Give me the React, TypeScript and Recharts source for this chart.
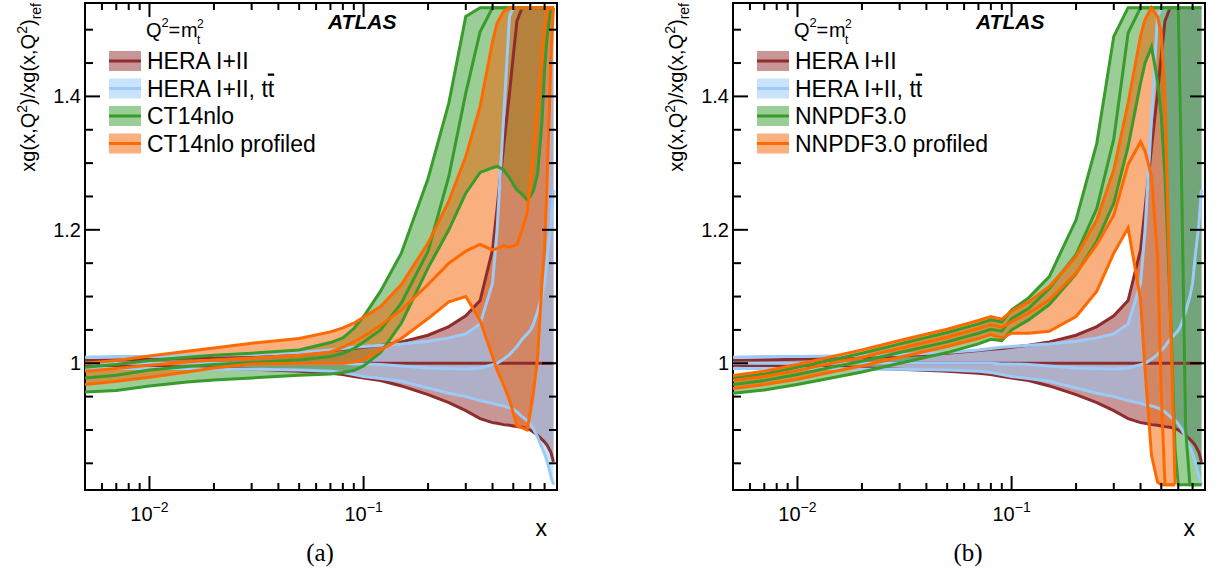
import React from "react";
import { ComposedChart, Area, Line, XAxis, YAxis, ReferenceArea } from "recharts";

// shared x grid (both panels)
const X = [
  0.005, 0.007, 0.01, 0.015, 0.02, 0.03, 0.05, 0.07, 0.08, 0.09, 0.1, 0.12, 0.15, 0.2, 0.25,
  0.3, 0.35, 0.4, 0.42, 0.45, 0.48, 0.5, 0.52, 0.55, 0.58, 0.6, 0.62, 0.65, 0.68, 0.7, 0.72,
  0.75, 0.77,
];

// HERA I+II
const HERA_LO = [
  0.997, 0.996, 0.995, 0.994, 0.993, 0.991, 0.988, 0.985, 0.983, 0.98, 0.978, 0.974, 0.966,
  0.953, 0.941, 0.929, 0.917, 0.911, 0.91, 0.908, 0.907, 0.906, 0.905, 0.904, 0.902, 0.9,
  0.897, 0.892, 0.886, 0.882, 0.877, 0.866, 0.852,
];
const HERA_MID = [
  1, 1, 1, 1, 1, 1, 1, 1, 1, 1, 1, 1, 1, 1, 1, 1, 1, 1, 1, 1, 1, 1, 1, 1, 1, 1, 1, 1, 1, 1, 1,
  1, 1,
];
const HERA_HI = [
  1.004, 1.005, 1.006, 1.008, 1.009, 1.011, 1.015, 1.019, 1.021, 1.022, 1.024, 1.027, 1.032,
  1.042, 1.055, 1.071, 1.094, 1.17, 1.232, 1.323, 1.405, 1.461, 1.513, 1.533, 1.533, 1.533,
  1.533, 1.533, 1.533, 1.533, 1.533, 1.533, 1.533,
];

// HERA I+II, ttbar
const TT_LO = [
  0.992, 0.992, 0.992, 0.992, 0.991, 0.991, 0.99, 0.988, 0.986, 0.983, 0.98, 0.977, 0.973,
  0.963, 0.955, 0.95, 0.944, 0.94, 0.938, 0.936, 0.933, 0.931, 0.927, 0.92, 0.914, 0.909,
  0.902, 0.889, 0.874, 0.864, 0.853, 0.83, 0.818,
];
const TT_MID = [
  1, 1, 1, 1, 1, 1, 1, 1, 1, 0.999, 0.999, 0.998, 0.996, 0.993, 0.992, 0.9915, 0.993, 0.998,
  1, 1.006, 1.013, 1.019, 1.025, 1.036, 1.044, 1.049, 1.058, 1.078, 1.1, 1.12, 1.16, 1.21, 1.26,
];
const TT_HI = [
  1.009, 1.01, 1.01, 1.011, 1.012, 1.013, 1.016, 1.02, 1.022, 1.024, 1.025, 1.027, 1.029,
  1.033, 1.038, 1.044, 1.059, 1.12, 1.2, 1.365, 1.52, 1.533, 1.533, 1.533, 1.533, 1.533,
  1.533, 1.533, 1.533, 1.533, 1.533, 1.533, 1.533,
];

// CT14nlo
const CT_LO = [
  0.957, 0.959, 0.966, 0.972, 0.975, 0.978, 0.982, 0.984, 0.986, 0.989, 0.996, 1.016, 1.06,
  1.143, 1.2, 1.255, 1.286, 1.293, 1.295, 1.29, 1.278, 1.268, 1.26, 1.253, 1.245, 1.25, 1.258,
  1.285, 1.36, 1.44, 1.49, 1.533, 1.533,
];
const CT_MID = [
  0.978, 0.982, 0.99, 0.995, 0.998, 1.001, 1.005, 1.01, 1.015, 1.022, 1.032, 1.05, 1.09, 1.168,
  1.28, 1.405, 1.497, 1.533, 1.533, 1.533, 1.533, 1.533, 1.533, 1.533, 1.533, 1.533, 1.533,
  1.533, 1.533, 1.533, 1.533, 1.533, 1.533,
];
const CT_HI = [
  0.994, 0.998, 1.004, 1.009, 1.012, 1.015, 1.02, 1.031, 1.038, 1.052, 1.07, 1.108, 1.165,
  1.277, 1.39, 1.52, 1.533, 1.533, 1.533, 1.533, 1.533, 1.533, 1.533, 1.533, 1.533, 1.533,
  1.533, 1.533, 1.533, 1.533, 1.533, 1.533, 1.533,
];

// CT14nlo profiled
const CTP_LO = [
  0.968, 0.973, 0.979, 0.987, 0.993, 0.999, 1.0, 1.0, 1.0, 1.002, 1.005, 1.02, 1.037, 1.067,
  1.092, 1.1, 1.064, 1.01, 0.99, 0.968, 0.945, 0.925, 0.906, 0.903, 0.9, 0.926, 0.955, 1.01,
  1.12, 1.17, 1.28, 1.46, 1.533,
];
const CTP_MID = [
  0.988, 0.992, 0.997, 1.002, 1.005, 1.008, 1.012, 1.017, 1.024, 1.032, 1.04, 1.057, 1.08,
  1.118, 1.15, 1.168, 1.178, 1.17, 1.172, 1.176, 1.174, 1.176, 1.178, 1.2, 1.225, 1.27, 1.315,
  1.385, 1.46, 1.5, 1.53, 1.533, 1.533,
];
const CTP_HI = [
  1.0, 1.004, 1.011, 1.018, 1.023, 1.03, 1.037, 1.047, 1.053, 1.06, 1.069, 1.085, 1.118, 1.18,
  1.243, 1.31, 1.385, 1.482, 1.51, 1.527, 1.533, 1.533, 1.533, 1.533, 1.533, 1.533, 1.533,
  1.533, 1.533, 1.533, 1.533, 1.533, 1.533,
];

// NNPDF3.0
const NN_LO = [
  0.955, 0.96, 0.968, 0.979, 0.987, 1.0, 1.016, 1.029, 1.036, 1.034, 1.05, 1.065, 1.088, 1.134,
  1.183, 1.24, 1.325, 1.42, 1.45, 1.474, 1.424, 1.37, 1.28, 1.09, 0.87, 0.818, 0.818, 0.818,
  0.818, 0.818, 0.818, 0.818, 0.818,
];
const NN_MID = [
  0.968, 0.974, 0.983, 0.995, 1.003, 1.016, 1.032, 1.045, 1.051, 1.048, 1.067, 1.082, 1.112,
  1.163, 1.232, 1.336, 1.495, 1.533, 1.533, 1.533, 1.533, 1.533, 1.533, 1.533, 1.533, 1.533,
  1.3, 0.9, 0.818, 0.818, 0.818, 0.818, 0.818,
];
const NN_HI = [
  0.978, 0.984, 0.994, 1.006, 1.015, 1.029, 1.046, 1.059, 1.065, 1.062, 1.08, 1.098, 1.13,
  1.215, 1.33, 1.49, 1.533, 1.533, 1.533, 1.533, 1.533, 1.533, 1.533, 1.533, 1.533, 1.533,
  1.533, 1.533, 1.533, 1.533, 1.533, 1.533, 1.533,
];

// NNPDF3.0 profiled (ends at x = 0.58)
const NNP_LO = [
  0.962, 0.968, 0.976, 0.988, 0.996, 1.009, 1.025, 1.037, 1.043, 1.038, 1.045, 1.045, 1.048,
  1.07, 1.108, 1.165, 1.203, 1.095, 0.99, 0.862, 0.822, 0.818, 0.818, 0.818, 0.818, null, null,
  null, null, null, null, null, null,
];
const NNP_MID = [
  0.974, 0.98, 0.989, 1.001, 1.009, 1.022, 1.039, 1.052, 1.058, 1.054, 1.062, 1.075, 1.095,
  1.135, 1.178, 1.222, 1.298, 1.332, 1.318, 1.28, 1.16, 0.955, 0.818, 0.818, 0.818, null, null,
  null, null, null, null, null, null,
];
const NNP_HI = [
  0.9815, 0.988, 0.998, 1.011, 1.02, 1.034, 1.051, 1.064, 1.07, 1.066, 1.078, 1.092, 1.115,
  1.16, 1.215, 1.29, 1.39, 1.49, 1.515, 1.533, 1.52, 1.494, 1.4, 1.09, 0.818, null, null, null,
  null, null, null, null, null,
];

const X_TICKS = [
  0.006, 0.007, 0.008, 0.009, 0.01, 0.02, 0.03, 0.04, 0.05, 0.06, 0.07, 0.08, 0.09, 0.1, 0.2,
  0.3, 0.4, 0.5, 0.6, 0.7,
];
const Y_TICKS = [
  0.85, 0.9, 0.95, 1.0, 1.05, 1.1, 1.15, 1.2, 1.25, 1.3, 1.35, 1.4, 1.45, 1.5,
];

const RED = { fill: "#912d2d", line: "#8e2c2e" };
const BLUE = { fill: "#96c8fa", line: "#9ccbf7" };
const GREEN = { fill: "#379b2d", line: "#389b2c" };
const ORANGE = { fill: "#f55f00", line: "#ff6a00" };

const FONT = "'Liberation Sans', Arial, sans-serif";
const W = 610;
const H = 577;
const PLOT_TOP = 3;
const PLOT_LEFT = 85;
const PLOT_RIGHT = 557;
const PLOT_BOTTOM = 490;

type Band = { id: string; lo: (number | null)[]; mid: (number | null)[]; hi: (number | null)[]; color: { fill: string; line: string } };

function XTick(props: any) {
  const { x, y, payload } = props;
  const v = payload.value;
  const major = Math.abs(Math.log10(v) - Math.round(Math.log10(v))) < 1e-6;
  const len = major ? 14 : 7;
  return (
    <g>
      <line x1={x} x2={x} y1={y} y2={y - len} stroke="#000" strokeWidth={2} />
      <line x1={x} x2={x} y1={PLOT_TOP} y2={PLOT_TOP + len} stroke="#000" strokeWidth={2} />
      {major && (
        <text x={x} y={y + 31} textAnchor="middle" fontSize={20} fontFamily={FONT} fill="#000">
          10
          <tspan dy={-9} fontSize={14}>
            {"\u2212" + Math.abs(Math.round(Math.log10(v)))}
          </tspan>
        </text>
      )}
    </g>
  );
}

function YTick(props: any) {
  const { x, y, payload } = props;
  const v = payload.value;
  const major = Math.abs(v * 5 - Math.round(v * 5)) < 1e-6;
  const len = major ? 15 : 8;
  return (
    <g>
      <line x1={x} x2={x + len} y1={y} y2={y} stroke="#000" strokeWidth={2} />
      <line x1={PLOT_RIGHT - len} x2={PLOT_RIGHT} y1={y} y2={y} stroke="#000" strokeWidth={2} />
      {major && (
        <text x={x - 4} y={y + 7} textAnchor="end" fontSize={20} fontFamily={FONT} fill="#000">
          {Math.abs(v - 1) < 1e-6 ? "1" : v.toFixed(1)}
        </text>
      )}
    </g>
  );
}

function Panel({ bands }: { bands: Band[] }) {
  const rows = X.map((x, i) => {
    const r: any = { x };
    bands.forEach((b) => {
      r[b.id + "Lo"] = b.lo[i];
      r[b.id + "Mid"] = b.mid[i];
      r[b.id + "Hi"] = b.hi[i];
    });
    return r;
  });

  return (
    <ComposedChart width={W} height={H} data={rows} margin={{ top: PLOT_TOP, right: W - PLOT_RIGHT, bottom: 0, left: 0 }}>
      <XAxis
        dataKey="x"
        type="number"
        scale="log"
        domain={[0.005, 0.8]}
        allowDataOverflow
        ticks={X_TICKS}
        interval={0}
        tickSize={0}
        tickMargin={0}
        axisLine={false}
        height={H - PLOT_BOTTOM - PLOT_TOP + 3}
        tick={(p: any) => <XTick {...p} />}
      />
      <YAxis
        type="number"
        domain={[0.81, 1.54]}
        allowDataOverflow
        ticks={Y_TICKS}
        interval={0}
        tickSize={0}
        tickMargin={0}
        axisLine={false}
        width={PLOT_LEFT}
        tick={(p: any) => <YTick {...p} />}
      />
      {bands.map((b) => (
        <Area
          key={b.id + "band"}
          type="linear"
          dataKey={(d: any) => (d[b.id + "Lo"] == null ? null : [d[b.id + "Lo"], d[b.id + "Hi"]])}
          stroke="none"
          fill={b.color.fill}
          fillOpacity={0.5}
          isAnimationActive={false}
          dot={false}
          activeDot={false}
        />
      ))}
      {bands.map((b) =>
        ["Lo", "Mid", "Hi"].map((k) => (
          <Line
            key={b.id + k}
            type="linear"
            dataKey={b.id + k}
            stroke={b.color.line}
            strokeWidth={3}
            dot={false}
            activeDot={false}
            isAnimationActive={false}
          />
        ))
      )}
      <ReferenceArea
        x1={0.005}
        x2={0.8}
        y1={0.81}
        y2={1.54}
        fill="none"
        fillOpacity={0}
        stroke="#000"
        strokeWidth={2}
        ifOverflow="visible"
      />
    </ComposedChart>
  );
}

function Overlay({ ox, names, tag }: { ox: number; names: string[]; tag: string }) {
  const rows = [
    { c: RED, y: 61 },
    { c: BLUE, y: 88.5 },
    { c: GREEN, y: 116 },
    { c: ORANGE, y: 143.5 },
  ];
  return (
    <g fontFamily={FONT} fill="#000">
      <text transform={`translate(${ox + 35}, 3) rotate(-90)`} textAnchor="end" fontSize={20}>
        xg(x,Q
        <tspan dy={-8} fontSize={14}>2</tspan>
        <tspan dy={8}>)/xg(x,Q</tspan>
        <tspan dy={-8} fontSize={14}>2</tspan>
        <tspan dy={8}>)</tspan>
        <tspan dy={6} fontSize={14}>ref</tspan>
      </text>
      <text x={ox + 547} y={536} textAnchor="end" fontSize={23}>x</text>
      <text x={ox + 320} y={561} textAnchor="middle" fontSize={25} fontFamily="'Liberation Serif', 'Times New Roman', serif">
        {tag}
      </text>
      <text x={ox + 328} y={29} fontSize={21} fontWeight="bold" fontStyle="italic">ATLAS</text>
      <text x={ox + 146} y={37} fontSize={20}>Q</text>
      <text x={ox + 161.5} y={27} fontSize={13}>2</text>
      <text x={ox + 168.5} y={37} fontSize={20}>=</text>
      <text x={ox + 181} y={37} fontSize={20}>m</text>
      <text x={ox + 197} y={44} fontSize={12}>t</text>
      <text x={ox + 197} y={28} fontSize={12}>2</text>
      {rows.map((r, i) => (
        <g key={i}>
          <rect x={ox + 109} y={r.y - 10} width={32} height={20} fill={r.c.fill} fillOpacity={0.5} />
          <line x1={ox + 109} x2={ox + 141} y1={r.y} y2={r.y} stroke={r.c.line} strokeWidth={3} />
          <text x={ox + 147} y={r.y + 8} fontSize={23}>
            {i === 1 ? (
              <>
                HERA I+II, t<tspan textDecoration="overline">t</tspan>
              </>
            ) : (
              names[i]
            )}
          </text>
        </g>
      ))}
    </g>
  );
}

export default function App() {
  const hera: Band = { id: "hera", lo: HERA_LO, mid: HERA_MID, hi: HERA_HI, color: RED };
  const tt: Band = { id: "tt", lo: TT_LO, mid: TT_MID, hi: TT_HI, color: BLUE };
  const left: Band[] = [
    hera,
    tt,
    { id: "ct", lo: CT_LO, mid: CT_MID, hi: CT_HI, color: GREEN },
    { id: "ctp", lo: CTP_LO, mid: CTP_MID, hi: CTP_HI, color: ORANGE },
  ];
  const right: Band[] = [
    hera,
    tt,
    { id: "nn", lo: NN_LO, mid: NN_MID, hi: NN_HI, color: GREEN },
    { id: "nnp", lo: NNP_LO, mid: NNP_MID, hi: NNP_HI, color: ORANGE },
  ];
  return (
    <div style={{ position: "absolute", left: 0, top: 0, width: 1219, height: 577, background: "#fff" }}>
      <div style={{ position: "absolute", left: 0, top: 0 }}>
        <Panel bands={left} />
      </div>
      <div style={{ position: "absolute", left: 648, top: 0 }}>
        <Panel bands={right} />
      </div>
      <svg width={1219} height={577} style={{ position: "absolute", left: 0, top: 0, pointerEvents: "none" }}>
        <Overlay ox={0} names={["HERA I+II", "", "CT14nlo", "CT14nlo profiled"]} tag="(a)" />
        <Overlay ox={648} names={["HERA I+II", "", "NNPDF3.0", "NNPDF3.0 profiled"]} tag="(b)" />
      </svg>
    </div>
  );
}
